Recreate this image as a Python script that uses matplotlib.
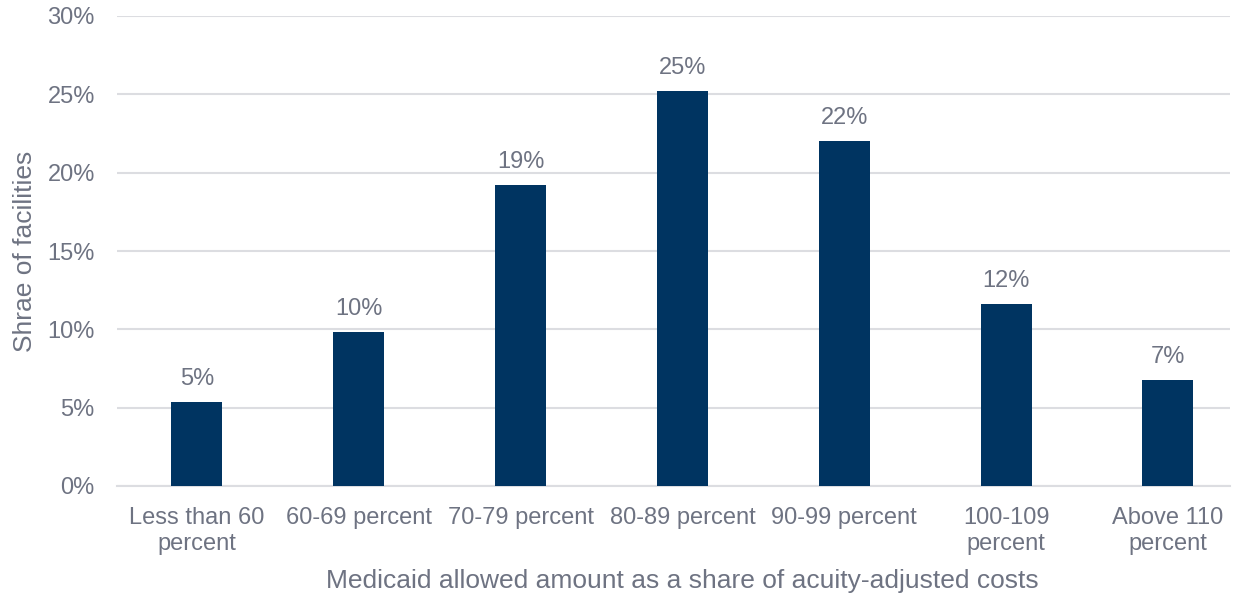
import matplotlib
matplotlib.use("Agg")
from matplotlib import pyplot as plt
from matplotlib.ticker import PercentFormatter

plt.rcParams['font.family'] = ['Liberation Sans', 'DejaVu Sans']

categories = ['Less than 60\npercent', '60-69 percent', '70-79 percent', '80-89 percent',
              '90-99 percent', '100-109\npercent', 'Above 110\npercent']
shares = [5.35, 9.8, 19.2, 25.2, 22.0, 11.6, 6.75]
labels = ['5%', '10%', '19%', '25%', '22%', '12%', '7%']

text_color = '#6e7382'
bar_color = '#003461'
grid_color = '#dcdde1'

fig, ax = plt.subplots(figsize=(12.42, 5.94), dpi=100)
fig.subplots_adjust(left=117 / 1242, right=1230 / 1242, top=1 - 16 / 594, bottom=1 - 486 / 594)

x_pos = list(range(len(categories)))
rects = ax.bar(x_pos, shares, width=0.315, color=bar_color, zorder=3)

for rect, lab in zip(rects, labels):
    ax.text(rect.get_x() + rect.get_width() / 2., rect.get_height() + 0.8, lab,
            ha='center', va='bottom', fontsize=17, color=text_color)

ax.set_xlim(-0.494, 6.384)
ax.set_ylim(0, 30)
ax.set_yticks([0, 5, 10, 15, 20, 25, 30])
ax.yaxis.set_major_formatter(PercentFormatter(decimals=0))
ax.set_xticks(x_pos)
ax.set_xticklabels(categories, linespacing=1.25)
ax.tick_params(axis='both', length=0, labelsize=17, colors=text_color)
ax.tick_params(axis='y', pad=16)
ax.tick_params(axis='x', pad=15)

ax.grid(axis='y', color=grid_color, linewidth=1.5, zorder=0)
for s in ['top', 'right', 'left']:
    ax.spines[s].set_visible(False)
ax.spines['bottom'].set_color(grid_color)
ax.spines['bottom'].set_linewidth(1.5)

ax.set_xlabel('Medicaid allowed amount as a share of acuity-adjusted costs',
              fontsize=19, color=text_color)
ax.xaxis.set_label_coords(0.508, -0.176)
ax.set_ylabel('Shrae of facilities', fontsize=19, color=text_color)
ax.yaxis.set_label_coords(-0.072, 0.5)

fig.savefig('out.png', dpi=100)
